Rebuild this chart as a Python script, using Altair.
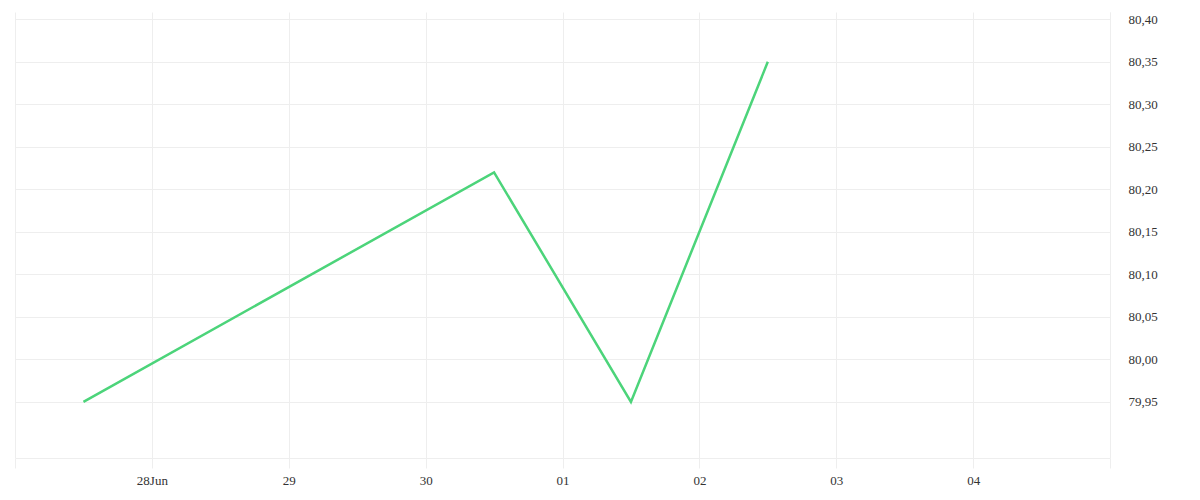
import altair as alt
import pandas as pd

dates = ["2024-06-27T12:00:00", "2024-06-30T12:00:00", "2024-07-01T12:00:00", "2024-07-02T12:00:00"]
values = [79.95, 80.22, 79.95, 80.35]
tick_days = ["2024-06-27", "2024-06-28", "2024-06-29", "2024-06-30", "2024-07-01",
             "2024-07-02", "2024-07-03", "2024-07-04", "2024-07-05"]
y_ticks = [79.95, 80.00, 80.05, 80.10, 80.15, 80.20, 80.25, 80.30, 80.35, 80.40]

df = pd.DataFrame({"t": dates, "v": values})

x_vals = [alt.DateTime(year=int(d[:4]), month=int(d[5:7]), date=int(d[8:10]), utc=True) for d in tick_days]

label_x = ("utcFormat(datum.value,'%d')=='27' || utcFormat(datum.value,'%d')=='05' ? '' : "
           "(utcFormat(datum.value,'%d')=='28' ? utcFormat(datum.value,'%d%b') : utcFormat(datum.value,'%d'))")

chart = alt.Chart(df).mark_line(color="#4cd47a", strokeWidth=2.5).encode(
    x=alt.X("t:T", title=None,
            scale=alt.Scale(type="utc", domain=[
                alt.DateTime(year=2024, month=6, date=27, utc=True),
                alt.DateTime(year=2024, month=7, date=5, utc=True)], nice=False),
            axis=alt.Axis(values=x_vals, grid=True, gridColor="#eeeeee", tickColor="#eeeeee",
                          tickSize=10, domainColor="#eeeeee", labelExpr=label_x,
                          labelFont="Liberation Serif", labelFontSize=13, labelColor="#333333",
                          labelPadding=6, labelOverlap=False)),
    y=alt.Y("v:Q", title=None,
            scale=alt.Scale(domain=[79.884, 80.4086], nice=False, zero=False),
            axis=alt.Axis(orient="right", values=y_ticks, grid=True, gridColor="#eeeeee",
                          ticks=False, domainColor="#eeeeee", labelPadding=18,
                          labelExpr="replace(format(datum.value,'.2f'),'.',',')",
                          labelFont="Liberation Serif", labelFontSize=13, labelColor="#333333",
                          labelOverlap=False)),
).properties(
    width=1095, height=446,
    background="white",
    padding={"left": 6, "top": 4, "right": 5, "bottom": 5},
).configure_view(strokeWidth=0, stroke="transparent")

chart.save("out.html", embed_options={"renderer": "svg", "actions": False})
